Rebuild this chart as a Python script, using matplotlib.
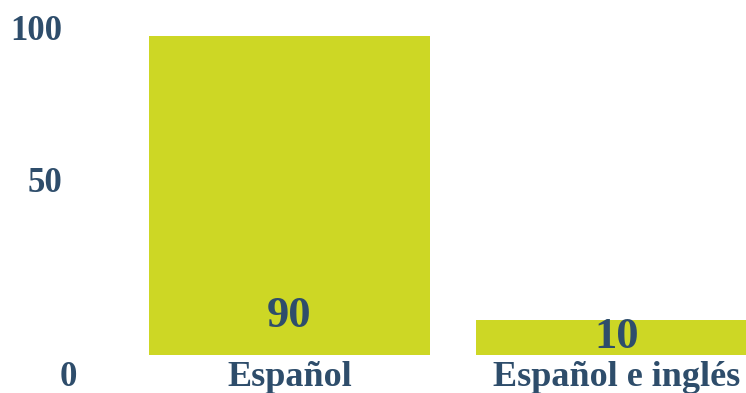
import matplotlib.pyplot as plt

# datos
categorias = ['Español', 'Español e inglés']
valores = [90, 10]
ticks_y = [0, 50, 100]

color_barra = '#cdd725'
color_texto = '#2e4d6b'
fuente = 'Liberation Serif'

fig = plt.figure(figsize=(7.46, 3.93), dpi=100)
ax = fig.add_axes([0, 38 / 393, 1, 355 / 393])

x = list(range(len(categorias)))
ax.bar(x, valores, width=0.86, color=color_barra)
ax.set_xlim(-0.885, 1.396)
ax.set_ylim(0, 100)

# etiquetas del eje x
ax.set_xticks(x)
ax.set_xticklabels(categorias, fontsize=26, fontweight='bold', family=fuente, color=color_texto)
ax.tick_params(axis='x', length=0, pad=4)
ax.set_yticks([])

# etiquetas del eje y (desplazadas como en el original, en pixeles)
desp_y = [(68, -31, 'center'), (62, -14.5, 'right'), (62, -40, 'right')]
for v, (dx, dy, ha) in zip(ticks_y, desp_y):
    ax.annotate(str(v), xy=(0, v), xycoords=('axes fraction', 'data'),
                xytext=(dx * 0.72, dy * 0.72), textcoords='offset points',
                ha=ha, va='baseline', fontsize=25, fontweight='bold',
                family=fuente, color=color_texto, annotation_clip=False)

# valores dentro de las barras
desp_valor = [28, 7]
for xi, v, dy in zip(x, valores, desp_valor):
    ax.annotate(str(v), xy=(xi, 0), xytext=(0, dy * 0.72), textcoords='offset points',
                ha='center', va='baseline', fontsize=32, fontweight='bold',
                family=fuente, color=color_texto)

for s in ax.spines.values():
    s.set_visible(False)

fig.savefig('out.png', dpi=100)
